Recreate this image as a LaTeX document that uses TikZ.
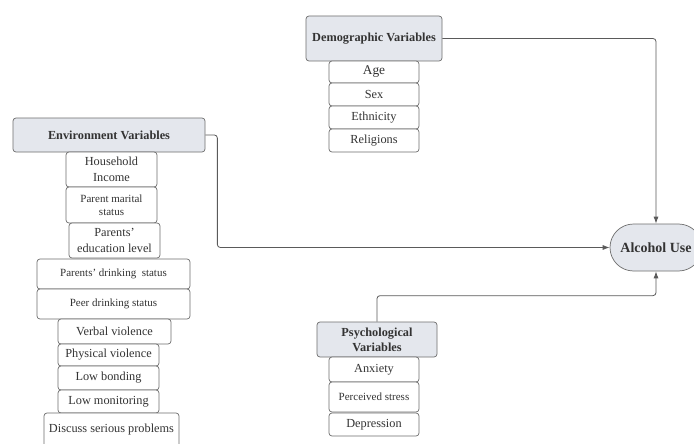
\documentclass[tikz,border=0pt]{standalone}
\usepackage{fontspec}
\setmainfont{Liberation Serif}
\usetikzlibrary{positioning, arrows.meta}

\begin{document}
\begin{tikzpicture}[x=1pt, y=-1pt,
  caixa/.style={draw=borda, rounded corners=3pt, line width=0.7pt, text=texto, inner sep=1pt, align=center, font=\fontsize{12.3}{15.5}\selectfont},
  cabeca/.style={caixa, fill=cinza, font=\fontsize{12.3}{15}\selectfont\bfseries},
  item/.style={caixa, fill=white},
  miudo/.style={font=\fontsize{11}{13.5}\selectfont},
  liga/.style={draw=linha, line width=0.8pt, rounded corners=3pt, -{Latex[length=7pt,width=5pt]}}]
% --- CORES E MOLDURA ---
\definecolor{cinza}{HTML}{E4E7ED}
\definecolor{borda}{HTML}{6E6E6E}
\definecolor{linha}{HTML}{5A5A5A}
\definecolor{texto}{HTML}{333333}
\useasboundingbox (0,0) rectangle (694,444);
\fill[white] (0,0) rectangle (694,444);
\clip (0,0) rectangle (694,444);

% LAYER 1: Variáveis demográficas
\node[cabeca, minimum width=136, minimum height=45] (demo) at (374,38.5) {Demographic Variables};
\node[item, minimum width=90, minimum height=22] (idade) at (374,72) {\fontsize{13.4}{15}\selectfont Age};
\node[item, minimum width=90, minimum height=23] (sexo) at (374,94.5) {Sex};
\node[item, minimum width=90, minimum height=23] (etnia) at (374,117.5) {Ethnicity};
\node[item, minimum width=90, minimum height=23] (relig) at (374,140.5) {Religions};

% LAYER 2: Variáveis de ambiente
\node[cabeca, minimum width=192, minimum height=34] (amb) at (109,135) {Environment Variables};
\node[item, minimum width=91, minimum height=35] (renda) at (111.5,169.5) {Household\\Income};
\node[item, miudo, minimum width=91, minimum height=36] (civil) at (111.5,205) {Parent marital\\status};
\node[item, minimum width=91, minimum height=35] (educ) at (114.5,240.5) {Parents'\\education level};
\node[item, miudo, minimum width=153, minimum height=30] (pbebe) at (113.5,274) {Parents' drinking\ \ status};
\node[item, miudo, minimum width=153, minimum height=30] (colega) at (113.5,304) {Peer drinking status};
\node[item, minimum width=113, minimum height=25] (verbal) at (114.5,331.5) {Verbal violence};
\node[item, minimum width=101, minimum height=22] (fisica) at (108.5,355) {Physical violence};
\node[item, minimum width=101, minimum height=24] (vinculo) at (108.5,378) {Low bonding};
\node[item, minimum width=101, minimum height=23] (monit) at (108.5,401.5) {Low monitoring};
\node[item, minimum width=135, minimum height=34] (discute) at (111.5,430) {Discuss serious problems};

% LAYER 3: Variáveis psicológicas
\node[cabeca, minimum width=120, minimum height=35] (psico) at (377,339.5) {Psychological\\Variables};
\node[item, minimum width=90, minimum height=25] (ansied) at (374,369.5) {Anxiety};
\node[item, miudo, minimum width=90, minimum height=30] (estresse) at (374,397) {Perceived stress};
\node[item, minimum width=90, minimum height=23] (depre) at (374,424.5) {Depression};

% LAYER 4: Desfecho e ligações
\node[cabeca, minimum width=92, minimum height=47, rounded corners=23.5pt, font=\fontsize{14}{17}\selectfont\bfseries] (alcool) at (656,247.5) {Alcohol Use};
\draw[liga] (demo.east) -| (alcool.north);
\draw[liga] (amb.east) -- ++(12,0) |- (alcool.west);
\draw[liga] (psico.north) -- ++(0,-26) -| (alcool.south);
\end{tikzpicture}
\end{document}
